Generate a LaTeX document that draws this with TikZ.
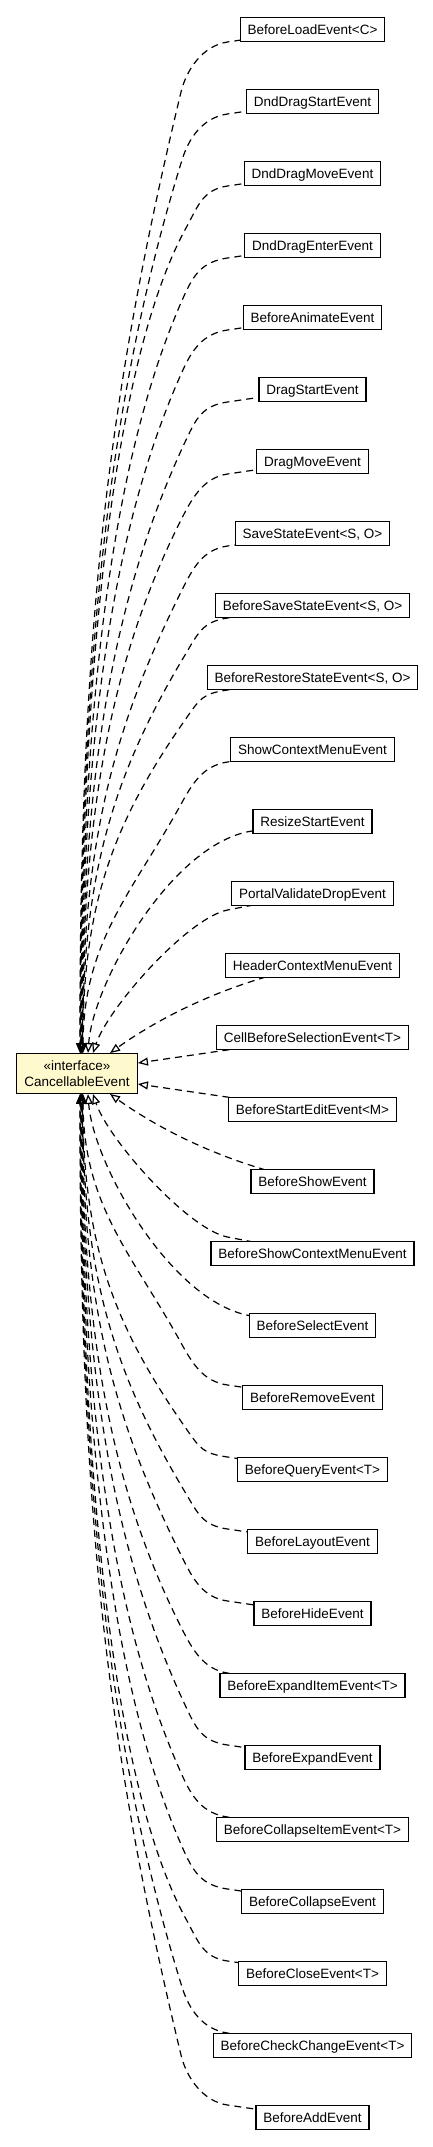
\documentclass[tikz,border=0pt]{standalone}
\usepackage{fontspec}
\setmainfont{Liberation Sans}
\usetikzlibrary{arrows.meta,backgrounds}
\definecolor{lemon}{RGB}{255,250,205}
\begin{document}
\begin{tikzpicture}[x=1pt,y=-1pt,
  cls/.style={draw=black, line width=1.25pt, fill=white, minimum height=23.7pt, inner xsep=7.4pt, inner ysep=0pt, text height=12pt, text depth=2.4pt, font=\fontsize{13.5}{16}\selectfont},
  iface/.style={draw=black, line width=1.25pt, fill=lemon, minimum width=120.7pt, minimum height=39.7pt, inner sep=0pt, align=center, font=\fontsize{13.5}{15.5}\selectfont},
  real/.style={draw=black, line width=1.2pt, dash pattern=on 7pt off 5pt, -{Triangle[open,length=10pt,width=8pt]}}]
\useasboundingbox (0,0) rectangle (433,2147);
\node[cls] (n0) at (312.5,29.5) {BeforeLoadEvent<C>};
\node[cls] (n1) at (312.5,101.5) {DndDragStartEvent};
\node[cls] (n2) at (312.5,173.5) {DndDragMoveEvent};
\node[cls] (n3) at (312.5,245.5) {DndDragEnterEvent};
\node[cls] (n4) at (312.5,317.5) {BeforeAnimateEvent};
\node[cls] (n5) at (312.5,389.5) {DragStartEvent};
\node[cls] (n6) at (312.5,461.5) {DragMoveEvent};
\node[cls] (n7) at (312.5,533.5) {SaveStateEvent<S, O>};
\node[cls] (n8) at (312.5,605.5) {BeforeSaveStateEvent<S, O>};
\node[cls] (n9) at (312.5,677.5) {BeforeRestoreStateEvent<S, O>};
\node[cls] (n10) at (312.5,749.5) {ShowContextMenuEvent};
\node[cls] (n11) at (312.5,821.5) {ResizeStartEvent};
\node[cls] (n12) at (312.5,893.5) {PortalValidateDropEvent};
\node[cls] (n13) at (312.5,965.5) {HeaderContextMenuEvent};
\node[cls] (n14) at (312.5,1037.5) {CellBeforeSelectionEvent<T>};
\node[cls] (n15) at (312.5,1109.5) {BeforeStartEditEvent<M>};
\node[cls] (n16) at (312.5,1181.5) {BeforeShowEvent};
\node[cls] (n17) at (312.5,1253.5) {BeforeShowContextMenuEvent};
\node[cls] (n18) at (312.5,1325.5) {BeforeSelectEvent};
\node[cls] (n19) at (312.5,1397.5) {BeforeRemoveEvent};
\node[cls] (n20) at (312.5,1469.5) {BeforeQueryEvent<T>};
\node[cls] (n21) at (312.5,1541.5) {BeforeLayoutEvent};
\node[cls] (n22) at (312.5,1613.5) {BeforeHideEvent};
\node[cls] (n23) at (312.5,1685.5) {BeforeExpandItemEvent<T>};
\node[cls] (n24) at (312.5,1757.5) {BeforeExpandEvent};
\node[cls] (n25) at (312.5,1829.5) {BeforeCollapseItemEvent<T>};
\node[cls] (n26) at (312.5,1901.5) {BeforeCollapseEvent};
\node[cls] (n27) at (312.5,1973.5) {BeforeCloseEvent<T>};
\node[cls] (n28) at (312.5,2045.5) {BeforeCheckChangeEvent<T>};
\node[cls] (n29) at (312.5,2117.5) {BeforeAddEvent};
\node[iface] (ce) at (77,1073.5) {«interface»\\CancellableEvent};
\begin{pgfonlayer}{background}
\fill[white] (0,0) rectangle (433,2147);
% upper edges
\draw[real] (n0.center) -- (227.5,42) .. controls (202.5,45.7) and (186.3,70) .. (181,92) .. controls (110,388) and (79.5,620.5) .. ([xshift=3pt]ce.north);
\draw[real] (n1.center) -- (227.5,114) .. controls (202.5,117.7) and (188.8,138) .. (182,160) .. controls (110.5,390.6) and (79.9,651.1) .. ([xshift=3.3pt]ce.north);
\draw[real] (n2.center) -- (227.5,186) .. controls (202.5,189.7) and (198.1,206) .. (186,228) .. controls (112,362.5) and (80.3,681.7) .. ([xshift=3.6pt]ce.north);
\draw[real] (n3.center) -- (227.5,258) .. controls (202.5,261.7) and (193.9,274) .. (184,296) .. controls (111.7,456.7) and (80.7,712.3) .. ([xshift=3.9pt]ce.north);
\draw[real] (n4.center) -- (227.5,330) .. controls (202.5,333.7) and (191.9,350) .. (182,372) .. controls (111.4,528.9) and (81.1,746.5) .. ([xshift=4.2pt]ce.north);
\draw[real] (n5.center) -- (227.5,402) .. controls (202.5,405.7) and (196.3,418) .. (186,440) .. controls (112.9,595.6) and (81.5,777.1) .. ([xshift=4.5pt]ce.north);
\draw[real] (n6.center) -- (227.5,474) .. controls (202.5,477.7) and (191,500) .. (180,522) .. controls (111.3,659.4) and (81.9,814) .. ([xshift=4.8pt]ce.north);
\draw[real] (n7.center) -- (227.5,546) .. controls (202.5,549.7) and (193,568) .. (182,590) .. controls (112.2,729.6) and (82.3,844.6) .. ([xshift=5.1pt]ce.north);
\draw[real] (n8.center) -- (227.5,618) .. controls (202.5,621.7) and (198.2,633) .. (185,655) .. controls (113.4,774.3) and (82.7,873.9) .. ([xshift=5.4pt]ce.north);
\draw[real] (n9.center) -- (227.5,690) .. controls (202.5,693.7) and (200.4,698) .. (185,720) .. controls (113.7,821.9) and (83.1,903.1) .. ([xshift=5.7pt]ce.north);
\draw[real] (n10.center) -- (227.5,762) .. controls (202.5,765.7) and (192.1,784) .. (180,806) .. controls (132,892.5) and (83.5,941.8) .. ([xshift=6pt]ce.north);
\draw[real] (n11.center) -- (252,831) .. controls (172,843) and (93,983) .. ([xshift=11pt]ce.north);
\draw[real] (n12.center) -- (227.5,910) .. controls (187.5,918) and (108,1008) .. ([xshift=16pt]ce.north);
\draw[real] (n13.center) .. controls (212.5,985.5) and (145,1028) .. ([xshift=33pt]ce.north);
% side edges
\draw[real] (n14.center) -- ([yshift=10.5pt]ce.east);
\draw[real] (n15.center) -- ([yshift=-10.5pt]ce.east);
% lower edges
\draw[real] (n16.center) .. controls (212.5,1161.5) and (145,1119) .. ([xshift=33pt]ce.south);
\draw[real] (n17.center) -- (227.5,1237) .. controls (187.5,1229) and (108,1139) .. ([xshift=16pt]ce.south);
\draw[real] (n18.center) -- (252,1316) .. controls (172,1304) and (93,1164) .. ([xshift=11pt]ce.south);
\draw[real] (n19.center) -- (227.5,1385) .. controls (202.5,1381.3) and (192.1,1363) .. (180,1341) .. controls (132,1254.5) and (83.5,1205.2) .. ([xshift=6pt]ce.south);
\draw[real] (n20.center) -- (227.5,1457) .. controls (202.5,1453.3) and (200.4,1449) .. (185,1427) .. controls (113.7,1325.1) and (83.1,1243.9) .. ([xshift=5.7pt]ce.south);
\draw[real] (n21.center) -- (227.5,1529) .. controls (202.5,1525.3) and (198.2,1514) .. (185,1492) .. controls (113.4,1372.7) and (82.7,1273.1) .. ([xshift=5.4pt]ce.south);
\draw[real] (n22.center) -- (227.5,1601) .. controls (202.5,1597.3) and (193,1579) .. (182,1557) .. controls (112.2,1417.4) and (82.3,1302.4) .. ([xshift=5.1pt]ce.south);
\draw[real] (n23.center) -- (227.5,1673) .. controls (202.5,1669.3) and (191,1647) .. (180,1625) .. controls (111.3,1487.6) and (81.9,1333) .. ([xshift=4.8pt]ce.south);
\draw[real] (n24.center) -- (227.5,1745) .. controls (202.5,1741.3) and (196.3,1729) .. (186,1707) .. controls (112.9,1551.4) and (81.5,1369.9) .. ([xshift=4.5pt]ce.south);
\draw[real] (n25.center) -- (227.5,1817) .. controls (202.5,1813.3) and (191.9,1797) .. (182,1775) .. controls (111.4,1618.1) and (81.1,1400.5) .. ([xshift=4.2pt]ce.south);
\draw[real] (n26.center) -- (227.5,1889) .. controls (202.5,1885.3) and (193.9,1873) .. (184,1851) .. controls (111.7,1690.3) and (80.7,1434.7) .. ([xshift=3.9pt]ce.south);
\draw[real] (n27.center) -- (227.5,1961) .. controls (202.5,1957.3) and (198.1,1941) .. (186,1919) .. controls (112,1784.5) and (80.3,1465.3) .. ([xshift=3.6pt]ce.south);
\draw[real] (n28.center) -- (227.5,2033) .. controls (202.5,2029.3) and (188.8,2009) .. (182,1987) .. controls (110.5,1756.4) and (79.9,1495.9) .. ([xshift=3.3pt]ce.south);
\draw[real] (n29.center) -- (227.5,2105) .. controls (202.5,2101.3) and (186.3,2077) .. (181,2055) .. controls (110,1759) and (79.5,1526.5) .. ([xshift=3pt]ce.south);
\end{pgfonlayer}
\end{tikzpicture}
\end{document}
